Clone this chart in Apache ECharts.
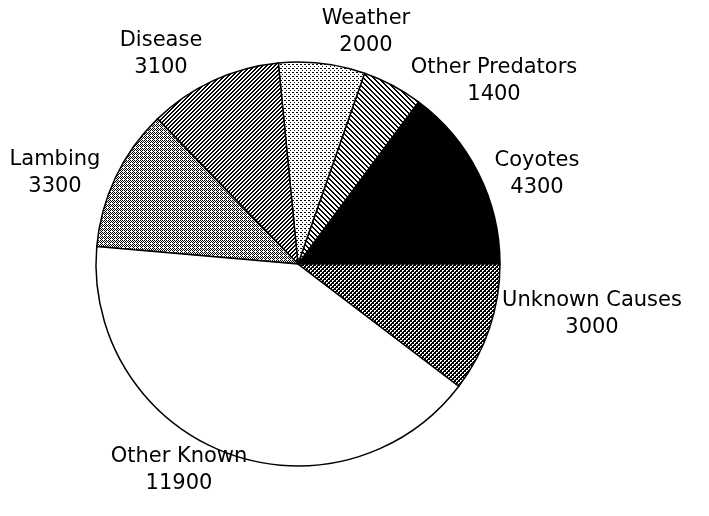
<!DOCTYPE html>
<html>
<head>
<meta charset="utf-8">
<script src="https://cdn.jsdelivr.net/npm/echarts@6/dist/echarts.min.js"></script>
<style>
html,body{margin:0;padding:0;background:#fff;}
#chart{width:709px;height:516px;}
</style>
</head>
<body>
<div id="chart"></div>
<script>
// Data
const categories = ['Coyotes', 'Other Predators', 'Weather', 'Disease', 'Lambing', 'Other Known', 'Unknown Causes'];
const losses = [4300, 1400, 2000, 3100, 3300, 11900, 3000];

// Label placement (layout, in pixels)
const labelPos = {
  'Coyotes': [537, 174],
  'Other Predators': [494, 81],
  'Weather': [366, 32],
  'Disease': [161, 54],
  'Lambing': [55, 173],
  'Other Known': [179, 470],
  'Unknown Causes': [592, 314]
};

function tile(size, draw) {
  const c = document.createElement('canvas');
  c.width = size; c.height = size;
  const ctx = c.getContext('2d');
  ctx.fillStyle = '#fff';
  ctx.fillRect(0, 0, size, size);
  ctx.fillStyle = '#000';
  draw(ctx, size);
  return c;
}
function px(ctx, list) { list.forEach(p => ctx.fillRect(p[0], p[1], 1, 1)); }
const patterns = {
  'Coyotes': '#000',
  'Other Predators': {image: tile(5, (ctx, s) => { for (let y = 0; y < s; y++) { ctx.fillRect(y % s, y, 1, 1); ctx.fillRect((y + 1) % s, y, 1, 1); } }), repeat: 'repeat'},
  'Disease': {image: tile(4, (ctx, s) => { for (let y = 0; y < s; y++) { ctx.fillRect((s - 1 - y + s) % s, y, 1, 1); ctx.fillRect((s - y + s) % s, y, 1, 1); } }), repeat: 'repeat'},
  'Weather': {image: tile(4, (ctx) => { px(ctx, [[0, 0], [2, 2], [1, 0]]); }), repeat: 'repeat'},
  'Lambing': {image: tile(4, (ctx) => { px(ctx, [[0, 0], [2, 0], [1, 1], [3, 1], [0, 2], [2, 2], [1, 3]]); }), repeat: 'repeat'},
  'Other Known': '#fff',
  'Unknown Causes': {image: tile(4, (ctx) => { ctx.fillRect(0, 0, 4, 4); ctx.fillStyle = '#fff'; ctx.fillRect(0, 0, 2, 1); ctx.fillRect(0, 1, 1, 1); ctx.fillRect(2, 2, 2, 1); ctx.fillRect(2, 3, 1, 1); }), repeat: 'repeat'}
};

const chart = echarts.init(document.getElementById('chart'), null, {renderer: 'canvas'});
chart.setOption({
  animation: false,
  backgroundColor: '#fff',
  series: [{
    type: 'pie',
    center: [298, 264],
    radius: 202,
    startAngle: 0,
    clockwise: false,
    avoidLabelOverlap: false,
    data: categories.map((name, i) => ({
      name: name,
      value: losses[i],
      itemStyle: {color: patterns[name]}
    })),
    itemStyle: {borderColor: '#000', borderWidth: 1.5},
    emphasis: {disabled: true},
    label: {
      show: true,
      position: 'outside',
      formatter: '{b}\n{c}',
      color: '#000',
      fontFamily: 'DejaVu Sans',
      fontSize: 21,
      lineHeight: 27
    },
    labelLine: {show: false},
    labelLayout: function (params) {
      const p = labelPos[categories[params.dataIndex]];
      return {x: p[0], y: p[1], align: 'center', verticalAlign: 'middle'};
    }
  }]
});
</script>
</body>
</html>
